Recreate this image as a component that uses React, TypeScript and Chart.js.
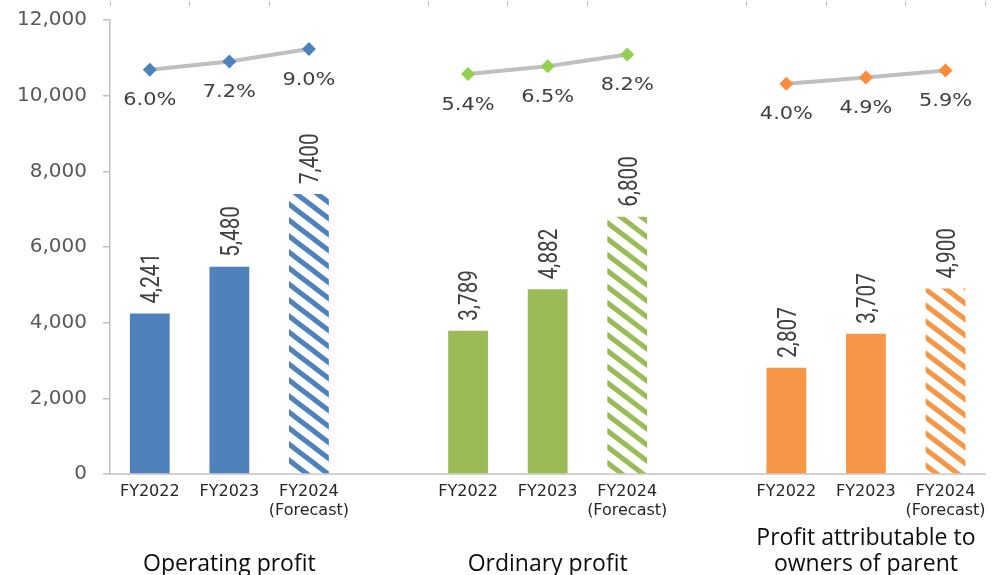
import React, { useEffect, useRef } from 'react';
import { Chart, registerables } from 'chart.js';

Chart.register(...registerables);

// Fiscal years shown under each group of bars
const fiscalYears: (string | string[])[] = ['FY2022', 'FY2023', ['FY2024', '(Forecast)']];

// Group captions under the axis
const groupTitles: string[][] = [
  ['Operating profit'],
  ['Ordinary profit'],
  ['Profit attributable to', 'owners of parent'],
];

// Profit amounts (bars)
const operatingProfit = [4241, 5480, 7400];
const ordinaryProfit = [3789, 4882, 6800];
const attributableProfit = [2807, 3707, 4900];

// Margins in percent (lines)
const operatingMargin = [6.0, 7.2, 9.0];
const ordinaryMargin = [5.4, 6.5, 8.2];
const attributableMargin = [4.0, 4.9, 5.9];

// Left axis range
const yMin = 0;
const yMax = 12000;
const yStep = 2000;

const barColors = ['#4f81bd', '#9bbb59', '#f79646'];
const markerColors = ['#4f81bd', '#92d050', '#fb8b3c'];

const barSeries = [operatingProfit, ordinaryProfit, attributableProfit];
const marginSeries = [operatingMargin, ordinaryMargin, attributableMargin];

// Each group takes three slots, with one empty slot between groups
const SLOTS_PER_GROUP = 4;
const categories: (string | string[])[] = [];
groupTitles.forEach((_, g) => {
  fiscalYears.forEach((fy) => categories.push(fy));
  if (g < groupTitles.length - 1) categories.push('');
});

function placeInGroup(values: number[], group: number): (number | null)[] {
  const out: (number | null)[] = categories.map(() => null);
  values.forEach((v, i) => {
    out[group * SLOTS_PER_GROUP + i] = v;
  });
  return out;
}

// Diagonal stripe fill used for forecast bars
function makeHatch(color: string): CanvasPattern | string {
  const w = 21;
  const h = 16;
  const c = document.createElement('canvas');
  c.width = w;
  c.height = h;
  const g = c.getContext('2d');
  if (!g) return color;
  g.fillStyle = '#ffffff';
  g.fillRect(0, 0, w, h);
  g.strokeStyle = color;
  g.lineWidth = 5;
  for (const k of [-1, 0, 1]) {
    g.beginPath();
    g.moveTo(-w, k * h - h);
    g.lineTo(2 * w, k * h + 2 * h);
    g.stroke();
  }
  return g.createPattern(c, 'repeat') || color;
}

const fmt = (v: number) => v.toLocaleString('en-US');

const valueLabelPlugin = {
  id: 'valueLabels',
  afterDatasetsDraw(chart: any) {
    const { ctx } = chart;
    chart.data.datasets.forEach((ds: any, di: number) => {
      const meta = chart.getDatasetMeta(di);
      if (meta.hidden) return;
      meta.data.forEach((el: any, i: number) => {
        const v = ds.data[i];
        if (v === null || v === undefined) return;
        ctx.save();
        if (ds.type === 'bar') {
          // amount, written upward above the bar
          ctx.font = '22px Roboto, sans-serif';
          ctx.fillStyle = '#404040';
          ctx.translate(el.x + 3, el.y - 10);
          ctx.rotate(-Math.PI / 2);
          ctx.scale(0.94, 1.15);
          ctx.textAlign = 'left';
          ctx.textBaseline = 'middle';
          ctx.fillText(fmt(v), 0, 0);
        } else {
          // margin, under the marker
          ctx.font = "18px 'DejaVu Sans', sans-serif";
          ctx.fillStyle = '#404040';
          ctx.translate(el.x, el.y + 31);
          ctx.scale(1.16, 1);
          ctx.textAlign = 'center';
          ctx.textBaseline = 'middle';
          ctx.fillText(v.toFixed(1) + '%', 0, 0);
        }
        ctx.restore();
      });
    });
  },
};

const groupTitlePlugin = {
  id: 'groupTitles',
  afterDraw(chart: any) {
    const { ctx } = chart;
    const xScale = chart.scales.x;
    ctx.save();
    ctx.font = "23px 'Open Sans', sans-serif";
    ctx.fillStyle = '#0d0d0d';
    ctx.textAlign = 'center';
    ctx.textBaseline = 'alphabetic';
    const lineH = 26;
    const lastBaseline = chart.height - 4;
    groupTitles.forEach((lines, g) => {
      const x = xScale.getPixelForValue(g * SLOTS_PER_GROUP + 1);
      lines.forEach((line, li) => {
        const y = lastBaseline - (lines.length - 1 - li) * lineH;
        ctx.fillText(line, x, y);
      });
    });
    ctx.restore();
  },
};

export default function App() {
  const canvasRef = useRef<HTMLCanvasElement | null>(null);

  useEffect(() => {
    const canvas = canvasRef.current;
    if (!canvas) return;

    const hatches = barColors.map((c) => makeHatch(c));

    const barDatasets = barSeries.map((vals, g) => ({
      type: 'bar' as const,
      label: `bar${g}`,
      data: placeInGroup(vals, g),
      yAxisID: 'y',
      xAxisID: 'x',
      grouped: false,
      barPercentage: 0.5,
      categoryPercentage: 1,
      backgroundColor: (c: any) =>
        c.dataIndex % SLOTS_PER_GROUP === 2 ? hatches[g] : barColors[g],
      borderWidth: 0,
      order: 2,
    }));

    const lineDatasets = marginSeries.map((vals, g) => ({
      type: 'line' as const,
      label: `margin${g}`,
      data: placeInGroup(vals, g),
      yAxisID: 'y2',
      xAxisID: 'x',
      borderColor: '#bfbfbf',
      borderWidth: 4,
      spanGaps: false,
      tension: 0,
      pointStyle: 'rectRot' as const,
      pointRadius: 7,
      pointBorderWidth: 0,
      pointBackgroundColor: markerColors[g],
      pointBorderColor: markerColors[g],
      order: 1,
    }));

    const chart = new Chart(canvas, {
      type: 'bar',
      data: {
        labels: categories,
        datasets: [...barDatasets, ...lineDatasets] as any,
      },
      options: {
        animation: false,
        responsive: true,
        maintainAspectRatio: false,
        layout: { padding: 0 },
        plugins: {
          legend: { display: false },
          tooltip: { enabled: false },
        },
        scales: {
          x: {
            type: 'category',
            position: 'bottom',
            offset: true,
            grid: { drawOnChartArea: false, drawTicks: false, offset: true },
            border: { color: '#d0d0d0', width: 2 },
            ticks: {
              color: '#262626',
              font: { family: 'DejaVu Sans', size: 16 },
              padding: 8,
              autoSkip: false,
              maxRotation: 0,
            },
            afterFit: (s: any) => {
              s.height = 101;
            },
          },
          x2: {
            type: 'category',
            position: 'top',
            offset: true,
            ticks: { display: false },
            grid: {
              offset: true,
              drawOnChartArea: false,
              tickLength: 19,
              tickBorderDash: [5, 40],
              lineWidth: 1,
              color: (c: any) =>
                c.index === 3 || c.index === 7 ? 'rgba(0,0,0,0)' : '#bfbfbf',
            },
            border: { display: false },
            afterFit: (s: any) => {
              s.height = 20;
            },
          },
          y: {
            position: 'left',
            min: yMin,
            max: yMax,
            ticks: {
              stepSize: yStep,
              color: '#595959',
              font: { family: 'DejaVu Sans', size: 20 },
              padding: 16,
              callback: (v: any) => fmt(Number(v)),
            },
            grid: { drawOnChartArea: false, tickLength: 7, color: '#c0c0c0', lineWidth: 1.5 },
            border: { color: '#c0c0c0', width: 1.5 },
            afterFit: (s: any) => {
              s.width = 110;
              s.paddingTop = 0;
              s.paddingBottom = 0;
            },
          },
          y2: {
            display: false,
            position: 'right',
            min: -52,
            max: 13.15,
          },
        },
      } as any,
      plugins: [valueLabelPlugin, groupTitlePlugin],
    });

    return () => {
      chart.destroy();
    };
  }, []);

  return (
    <div style={{ position: 'fixed', left: 0, top: 0, width: 994, height: 575, background: '#ffffff' }}>
      <canvas ref={canvasRef} />
    </div>
  );
}
